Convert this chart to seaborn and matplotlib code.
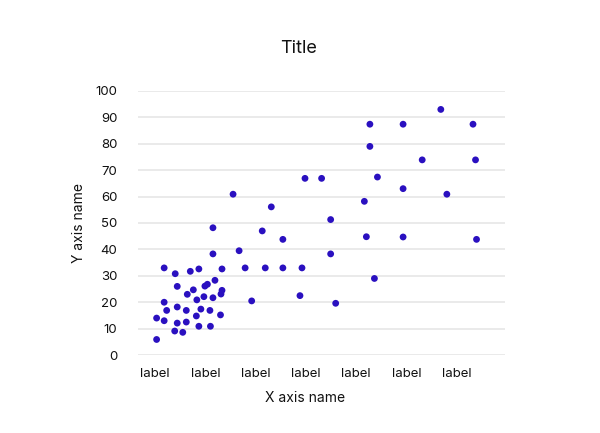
import numpy as np
import pandas as pd
import matplotlib
matplotlib.use("Agg")
import matplotlib.pyplot as plt
import seaborn as sns

# valores
x_vals = [2.55, 2.15, 3.13, 2.15, 2.67, 1.18, 1.40, 1.70, 1.87, 2.33, 2.79, 2.19,
          1.44, 1.76, 1.99, 2.04, 2.33, 2.31, 1.64, 1.83, 1.97, 2.15, 2.92, 1.18,
          1.44, 1.23, 1.62, 1.91, 2.09, 1.82, 2.30, 1.03, 1.18, 1.44, 1.62, 1.87,
          2.10, 1.39, 1.55, 1.03,
          5.27, 5.27, 3.98, 4.31, 5.42, 5.16, 3.31, 4.49, 5.20, 3.54, 4.49, 3.19,
          3.54, 3.92, 5.36, 3.88, 4.59,
          6.68, 5.93, 7.32, 6.31, 7.37, 5.93, 6.80, 5.93, 7.39]
y_vals = [60.9, 48.2, 47.0, 38.3, 39.5, 33.0, 30.8, 31.7, 32.6, 32.6, 33.0, 28.3,
          26.0, 24.7, 26.1, 26.8, 24.5, 23.1, 23.0, 20.9, 22.1, 21.7, 20.5, 20.0,
          18.2, 16.9, 16.9, 17.4, 16.9, 14.8, 15.2, 14.0, 13.0, 12.1, 12.5, 10.9,
          10.9, 9.1, 8.6, 5.9,
          87.4, 79.0, 66.9, 66.9, 67.4, 58.2, 56.1, 51.3, 44.8, 43.8, 38.3, 33.0,
          33.0, 33.0, 29.0, 22.5, 19.6,
          93.0, 87.4, 87.4, 73.9, 73.9, 63.0, 60.9, 44.7, 43.8]
x_ticks = [1, 2, 3, 4, 5, 6, 7]
x_labels = ["label"] * 7
y_ticks = [0, 10, 20, 30, 40, 50, 60, 70, 80, 90, 100]

df = pd.DataFrame({"x": x_vals, "y": y_vals})

sns.set_theme(style="white")
plt.rcParams["font.family"] = ["Inter", "DejaVu Sans"]

fig = plt.figure(figsize=(6, 4.33), dpi=100)
ax = fig.add_axes([0.23, 0.18, 0.612, 0.61])

sns.scatterplot(data=df, x="x", y="y", color="#2a10c0", s=24, edgecolor="none",
                ax=ax, zorder=3, clip_on=False)

ax.set_xlim(0.66, 7.96)
ax.set_ylim(0, 100)
ax.set_yticks(y_ticks)
ax.set_xticks(x_ticks)
ax.set_xticklabels(x_labels)
ax.yaxis.grid(True, color="#e6e6e6", linewidth=1.2)
ax.xaxis.grid(False)
for s in ax.spines.values():
    s.set_visible(False)
ax.tick_params(axis="y", length=0, pad=15, labelsize=9.5, labelcolor="#111111")
ax.tick_params(axis="x", length=0, pad=9, labelsize=9.5, labelcolor="#111111")

ax.set_title("Title", fontsize=13, pad=27, color="#111111", x=0.436)
ax.set_xlabel("X axis name", fontsize=10, labelpad=9, color="#111111")
ax.xaxis.set_label_coords(0.455, -0.135)
ax.set_ylabel("Y axis name", fontsize=10, labelpad=7, color="#111111")

fig.savefig("out.png", dpi=100, facecolor="white")
